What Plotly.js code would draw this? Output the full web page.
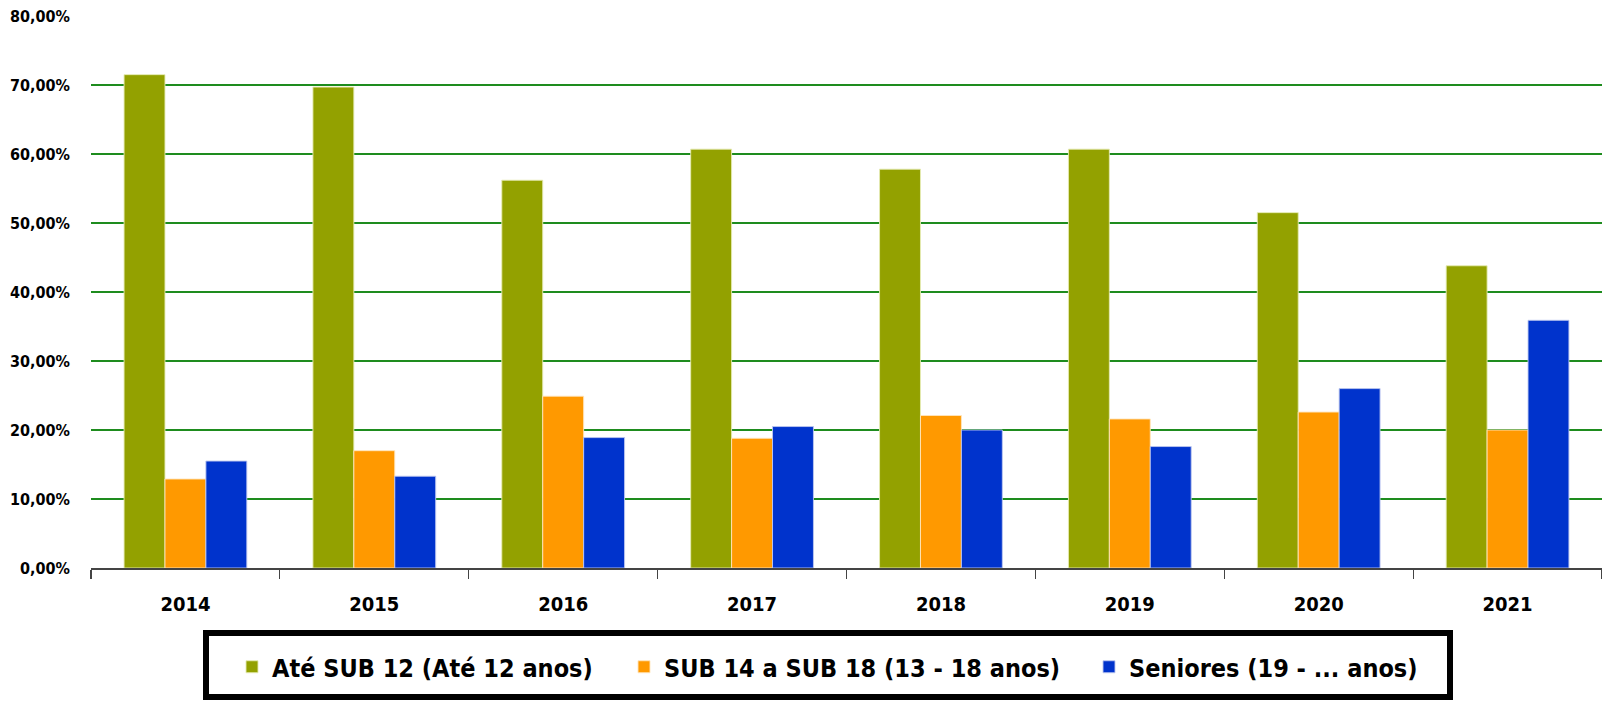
<!DOCTYPE html>
<html>
<head>
<meta charset="utf-8">
<script src="https://cdn.plot.ly/plotly-3.0.1.min.js"></script>
<style>
html,body{margin:0;padding:0;background:#fff;}
#chart{width:1602px;height:701px;}
</style>
</head>
<body>
<div id="chart"></div>
<script>
const years = ['2014','2015','2016','2017','2018','2019','2020','2021'];
const seriesNames = ['Até SUB 12 (Até 12 anos)', 'SUB 14 a SUB 18 (13 - 18 anos)', 'Seniores (19 - ... anos)'];
const ateSub12 = [71.5, 69.7, 56.2, 60.7, 57.8, 60.7, 51.5, 43.8];
const sub14a18 = [12.9, 17.0, 24.9, 18.8, 22.1, 21.6, 22.6, 20.0];
const seniores = [15.5, 13.3, 18.9, 20.5, 20.0, 17.6, 26.0, 35.9];
const colors = ['#93A100', '#FF9900', '#0033CC'];
const yTicks = [0, 10, 20, 30, 40, 50, 60, 70, 80];

const FONT = '"DejaVu Sans Condensed", "DejaVu Sans", sans-serif';

const values = [ateSub12, sub14a18, seniores];
const legendIds = ['legend', 'legend2', 'legend3'];
const lineColors = ['rgba(230,235,180,0.9)', 'rgba(255,230,190,0.9)', 'rgba(190,200,240,0.9)'];

const traces = values.map((v, i) => ({
  type: 'bar',
  name: '<b>' + seriesNames[i] + '</b>',
  x: years,
  y: v,
  legend: legendIds[i],
  marker: {color: colors[i], line: {color: lineColors[i], width: 1}},
  hoverinfo: 'x+y+name'
}));

const L = 91, W = 1511, T = 16, H = 552;
function px2x(p){ return (p - L) / W; }
function py2y(p){ return (T + H - p) / H; }

const legendBase = {
  orientation: 'h',
  xanchor: 'left',
  yanchor: 'middle',
  y: py2y(667),
  bgcolor: 'rgba(0,0,0,0)',
  borderwidth: 0,
  font: {family: FONT, size: 25, color: '#000', stretch: 'condensed'}
};

const layout = {
  width: 1602,
  height: 701,
  margin: {l: L, r: 0, t: T, b: 701 - T - H, pad: 0},
  paper_bgcolor: '#fff',
  plot_bgcolor: '#fff',
  separators: ',.',
  barmode: 'group',
  bargap: 0.35,
  bargroupgap: 0,
  showlegend: true,
  legend: Object.assign({}, legendBase, {x: px2x(232)}),
  legend2: Object.assign({}, legendBase, {x: px2x(624)}),
  legend3: Object.assign({}, legendBase, {x: px2x(1089)}),
  xaxis: {
    type: 'category',
    showgrid: false,
    showline: true,
    linecolor: '#444',
    linewidth: 1.5,
    ticks: 'outside',
    tickson: 'boundaries',
    ticklen: 9,
    tickwidth: 1.2,
    tickcolor: '#444',
    ticklabelstandoff: 17,
    tickfont: {family: FONT, size: 20, color: '#000', weight: 'bold', stretch: 'condensed'},
    fixedrange: true
  },
  yaxis: {
    range: [0, 80],
    tickvals: yTicks,
    ticktext: yTicks.map(v => (v.toFixed(2).replace('.', ',')) + '%'),
    showgrid: true,
    gridcolor: '#1E8C1E',
    gridwidth: 1.5,
    zeroline: false,
    showline: false,
    ticks: '',
    ticklabelstandoff: 20,
    tickfont: {family: FONT, size: 16, color: '#000', weight: 'bold', stretch: 'condensed'},
    fixedrange: true
  },
  shapes: [{
    type: 'rect',
    xref: 'paper', yref: 'paper',
    x0: px2x(206), x1: px2x(1450),
    y0: py2y(633), y1: py2y(697),
    line: {color: '#000', width: 6},
    fillcolor: 'rgba(0,0,0,0)',
    layer: 'below'
  }]
};

Plotly.newPlot('chart', traces, layout, {displayModeBar: false, staticPlot: true});
</script>
</body>
</html>
